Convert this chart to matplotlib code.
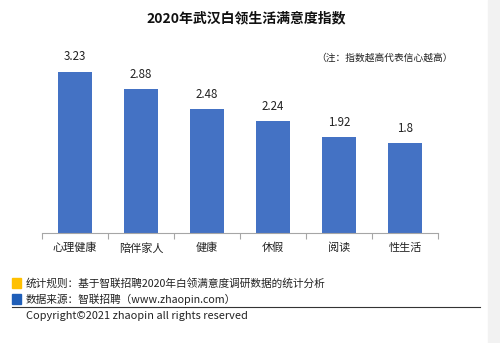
import matplotlib
matplotlib.use("Agg")
from matplotlib import pyplot as plt
import numpy as np

plt.rcParams['font.family'] = ['Noto Sans CJK SC', 'DejaVu Sans']

title = '2020年武汉白领生活满意度指数'
categories = ['心理健康', '陪伴家人', '健康', '休假', '阅读', '性生活']
values = [3.23, 2.88, 2.48, 2.24, 1.92, 1.8]
note = '（注：指数越高代表信心越高）'
footer_rule = '统计规则：基于智联招聘2020年白领满意度调研数据的统计分析'
footer_source = '数据来源：智联招聘（www.zhaopin.com）'
copyright_txt = 'Copyright©2021 zhaopin all rights reserved'

W, H = 500, 343
fig = plt.figure(figsize=(W / 100, H / 100), dpi=100)

# plot area in pixel terms
ax = fig.add_axes([42 / W, (H - 233) / H, 396 / W, 178 / H])
x = np.arange(len(categories))
bars = ax.bar(x, values, width=0.51, color='#4472C4')
for b, v in zip(bars, values):
    ax.annotate('{:g}'.format(v), (b.get_x() + b.get_width() / 2, v),
                xytext=(0, 6), textcoords='offset points',
                ha='center', va='bottom', fontsize=8.3, color='#222222')

ax.set_xlim(-0.5, len(categories) - 0.5)
ax.set_ylim(0, 3.56)
ax.set_xticks(x)
ax.set_xticklabels(categories, fontsize=8, color='#222222')
ax.tick_params(axis='x', which='major', length=0, pad=7)
ax.set_xticks(np.arange(-0.5, len(categories), 1), minor=True)
ax.tick_params(axis='x', which='minor', length=4, color='#A6A6A6', width=0.8)
ax.set_yticks([])
for s in ['top', 'right', 'left']:
    ax.spines[s].set_visible(False)
ax.spines['bottom'].set_color('#A6A6A6')
ax.spines['bottom'].set_linewidth(0.8)

fig.text(246 / W, 1 - 18 / H, title, ha='center', va='center',
         fontsize=10, fontweight='bold', color='#111111')
fig.text(453 / W, 1 - 58 / H, note, ha='right', va='center',
         fontsize=7, color='#222222')

# footer
fig.patches.append(plt.Rectangle((12 / W, 1 - 288 / H), 9 / W, 10 / H,
                                 transform=fig.transFigure, color='#FFC000'))
fig.patches.append(plt.Rectangle((12 / W, 1 - 304 / H), 9 / W, 10 / H,
                                 transform=fig.transFigure, color='#1F5EB8'))
fig.text(26 / W, 1 - 283 / H, footer_rule, ha='left', va='center',
         fontsize=7.7, color='#222222')
fig.text(26 / W, 1 - 299 / H, footer_source, ha='left', va='center',
         fontsize=7.7, color='#222222')
fig.add_artist(plt.Line2D([12 / W, 480 / W], [1 - 307 / H, 1 - 307 / H],
                          color='#333333', linewidth=0.8))
fig.text(26 / W, 1 - 316 / H, copyright_txt, ha='left', va='center',
         fontsize=7.9, color='#222222')

# light strip at the right edge
fig.patches.append(plt.Rectangle((488 / W, 0), 12 / W, 1,
                                 transform=fig.transFigure, color='#F2F2F2'))

fig.savefig('out.png', dpi=100)
